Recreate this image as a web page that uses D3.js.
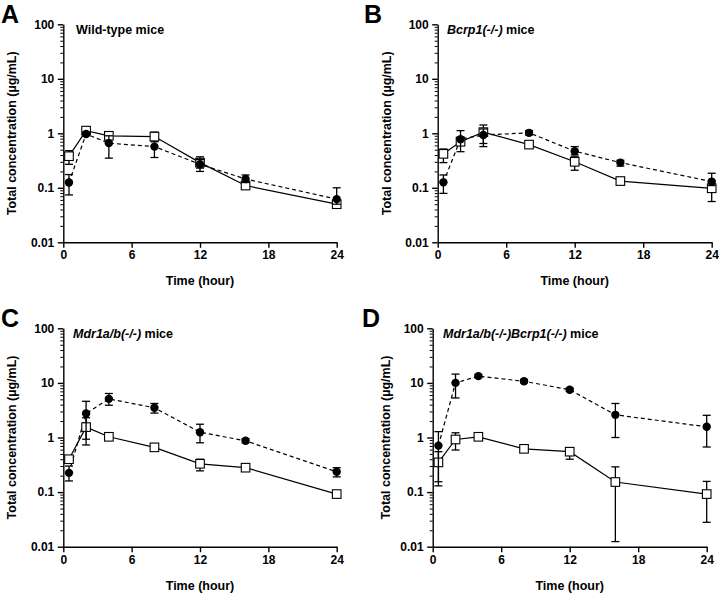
<!DOCTYPE html>
<html><head><meta charset="utf-8">
<script src="https://cdn.jsdelivr.net/npm/d3@7"></script>
<style>
html,body{margin:0;padding:0;background:#fff;}
svg{display:block;font-family:"Liberation Sans",Arial,sans-serif;}
</style></head>
<body>
<svg id="chart" width="719" height="594"></svg>
<script>
// ---------- data ----------
const times = [0.5, 2, 4, 8, 12, 16, 24];
const xTicks = [0, 6, 12, 18, 24];
const xTickLabels = ["0", "6", "12", "18", "24"];
const yTicks = [0.01, 0.1, 1, 10, 100];
const yTickLabels = ["0.01", "0.1", "1", "10", "100"];
const panelLetters = ["A", "B", "C", "D"];
const titleItalic = ["", "Bcrp1(-/-)", "Mdr1a/b(-/-)", "Mdr1a/b(-/-)Bcrp1(-/-)"];
const titlePlain = ["Wild-type mice", " mice", " mice", " mice"];
const xAxisTitle = "Time (hour)";
const yAxisTitle = "Total concentration (\u00b5g/mL)";

// open squares (solid line), filled circles (dashed line)
const sqMeanA = [0.38, 1.12, 0.90, 0.87, 0.29, 0.11, 0.05];
const sqLowA  = [0.27, 1.02, 0.80, 0.75, 0.23, 0.10, 0.045];
const sqHighA = [0.48, 1.25, 1.00, 1.05, 0.37, 0.12, 0.056];
const ciMeanA = [0.125, 0.97, 0.66, 0.57, 0.27, 0.145, 0.062];
const ciLowA  = [0.074, 0.90, 0.35, 0.36, 0.20, 0.125, 0.05];
const ciHighA = [0.175, 1.05, 0.90, 0.70, 0.33, 0.172, 0.10];

const sqMeanB = [0.42, 0.70, 1.05, 0.62, 0.30, 0.133, 0.098];
const sqLowB  = [0.29, 0.60, 0.65, 0.53, 0.21, 0.125, 0.056];
const sqHighB = [0.515, 0.85, 1.42, 0.70, 0.37, 0.142, 0.12];
const ciMeanB = [0.126, 0.78, 0.93, 1.02, 0.47, 0.29, 0.13];
const ciLowB  = [0.079, 0.46, 0.57, 0.93, 0.40, 0.25, 0.11];
const ciHighB = [0.172, 1.12, 1.20, 1.12, 0.57, 0.32, 0.185];

const sqMeanC = [0.40, 1.55, 1.03, 0.66, 0.33, 0.28, 0.092];
const sqLowC  = [0.34, 0.73, 0.95, 0.58, 0.245, 0.26, 0.085];
const sqHighC = [0.46, 2.30, 1.10, 0.76, 0.40, 0.30, 0.10];
const ciMeanC = [0.225, 2.75, 5.1, 3.5, 1.25, 0.87, 0.235];
const ciLowC  = [0.16, 0.93, 3.9, 2.8, 0.80, 0.80, 0.19];
const ciHighC = [0.30, 4.6, 6.4, 4.2, 1.75, 0.95, 0.28];

const sqMeanD = [0.35, 0.92, 1.03, 0.62, 0.55, 0.153, 0.092];
const sqLowD  = [0.13, 0.59, 0.95, 0.57, 0.40, 0.0124, 0.028];
const sqHighD = [0.55, 1.22, 1.10, 0.68, 0.65, 0.29, 0.157];
const ciMeanD = [0.71, 10.0, 13.3, 10.7, 7.5, 2.6, 1.57];
const ciLowD  = [0.155, 5.3, 12.5, 10.0, 7.0, 1.0, 0.67];
const ciHighD = [1.28, 14.5, 14.2, 11.5, 8.0, 4.2, 2.55];

// ---------- layout ----------
const panels = [
  {x0: 63.3, x1: 336.7, yTop: 24.3, yBot: 242.3, sq: [sqMeanA, sqLowA, sqHighA], ci: [ciMeanA, ciLowA, ciHighA], ylx: 11.5, ttx: 76, letterX: 1, letterY: 23},
  {x0: 437.7, x1: 711.7, yTop: 24.3, yBot: 242.3, sq: [sqMeanB, sqLowB, sqHighB], ci: [ciMeanB, ciLowB, ciHighB], ylx: 386, ttx: 447, letterX: 364, letterY: 23},
  {x0: 63.3, x1: 336.7, yTop: 328.3, yBot: 546.7, sq: [sqMeanC, sqLowC, sqHighC], ci: [ciMeanC, ciLowC, ciHighC], ylx: 11.7, ttx: 73, letterX: 1, letterY: 327},
  {x0: 432.7, x1: 706.7, yTop: 328.3, yBot: 546.7, sq: [sqMeanD, sqLowD, sqHighD], ci: [ciMeanD, ciLowD, ciHighD], ylx: 385, ttx: 443, letterX: 362, letterY: 327}
];

const svg = d3.select("#chart");
const minorTicks = [];
for (let e = -2; e < 2; e++) for (let m = 2; m <= 9; m++) minorTicks.push(m * Math.pow(10, e));

panels.forEach((p, pi) => {
  const x = d3.scaleLinear().domain([0, 24]).range([p.x0, p.x1]);
  const y = d3.scaleLog().domain([0.01, 100]).range([p.yBot, p.yTop]);
  const g = svg.append("g");

  // minor y ticks
  g.append("g").attr("transform", `translate(${p.x0},0)`)
    .call(d3.axisLeft(y).tickValues(minorTicks).tickSize(3).tickSizeOuter(0).tickFormat(""))
    .call(a => a.select(".domain").remove())
    .call(a => a.selectAll("line").attr("stroke", "#000").attr("stroke-width", 1));

  // major y axis
  g.append("g").attr("transform", `translate(${p.x0},0)`)
    .call(d3.axisLeft(y).tickValues(yTicks).tickSize(5.5).tickSizeOuter(0).tickPadding(3.5)
      .tickFormat((d, i) => yTickLabels[i]))
    .call(a => a.select(".domain").attr("stroke", "#000").attr("stroke-width", 1.4))
    .call(a => a.selectAll("line").attr("stroke", "#000").attr("stroke-width", 1.4))
    .call(a => a.selectAll("text").attr("fill", "#000").attr("font-size", 12).attr("font-weight", "bold")
      .attr("font-family", "Liberation Sans, Arial, sans-serif"));

  // x axis
  g.append("g").attr("transform", `translate(0,${p.yBot})`)
    .call(d3.axisBottom(x).tickValues(xTicks).tickSize(5.5).tickSizeOuter(0).tickPadding(3)
      .tickFormat((d, i) => xTickLabels[i]))
    .call(a => a.select(".domain").attr("stroke", "#000").attr("stroke-width", 1.4))
    .call(a => a.selectAll("line").attr("stroke", "#000").attr("stroke-width", 1.4))
    .call(a => a.selectAll("text").attr("fill", "#000").attr("font-size", 12).attr("font-weight", "bold")
      .attr("font-family", "Liberation Sans, Arial, sans-serif"));

  // axis titles
  g.append("text").attr("x", (p.x0 + p.x1) / 2).attr("y", p.yBot + 43)
    .attr("text-anchor", "middle").attr("font-size", 12.5).attr("font-weight", "bold").text(xAxisTitle);
  g.append("text").attr("transform", `translate(${p.ylx + 4.5},${(p.yTop + p.yBot) / 2}) rotate(-90)`)
    .attr("text-anchor", "middle").attr("font-size", 12.5).attr("font-weight", "bold").text(yAxisTitle);

  // panel letter
  g.append("text").attr("x", p.letterX).attr("y", p.letterY)
    .attr("font-size", 25).attr("font-weight", "bold").text(panelLetters[pi]);

  // panel title
  const tt = g.append("text").attr("x", p.ttx).attr("y", p.yTop + 9.5)
    .attr("font-size", 12.5).attr("font-weight", "bold");
  if (titleItalic[pi]) tt.append("tspan").attr("font-style", "italic").text(titleItalic[pi]);
  tt.append("tspan").text(titlePlain[pi]);

  const series = [
    {vals: p.sq, dash: null, shape: "square"},
    {vals: p.ci, dash: "4,3", shape: "circle"}
  ];
  const line = d3.line().x((d, i) => x(times[i])).y(d => y(d));

  // lines
  series.forEach(s => {
    g.append("path").datum(s.vals[0]).attr("d", line).attr("fill", "none")
      .attr("stroke", "#000").attr("stroke-width", 1.2)
      .attr("stroke-dasharray", s.dash);
  });

  // error bars + markers
  series.forEach(s => {
    const [mean, lo, hi] = s.vals;
    const eg = g.append("g").attr("stroke", "#000").attr("stroke-width", 1.3);
    times.forEach((t, i) => {
      const cx = x(t);
      eg.append("line").attr("x1", cx).attr("x2", cx).attr("y1", y(lo[i])).attr("y2", y(hi[i]));
      eg.append("line").attr("x1", cx - 4).attr("x2", cx + 4).attr("y1", y(lo[i])).attr("y2", y(lo[i]));
      eg.append("line").attr("x1", cx - 4).attr("x2", cx + 4).attr("y1", y(hi[i])).attr("y2", y(hi[i]));
    });
    const mg = g.append("g");
    if (s.shape === "square") {
      mg.selectAll("rect").data(mean).join("rect")
        .attr("x", (d, i) => x(times[i]) - 4.3).attr("y", d => y(d) - 4.3)
        .attr("width", 8.6).attr("height", 8.6)
        .attr("fill", "#fff").attr("stroke", "#000").attr("stroke-width", 1.1);
    } else {
      mg.selectAll("circle").data(mean).join("circle")
        .attr("cx", (d, i) => x(times[i])).attr("cy", d => y(d)).attr("r", 4.2)
        .attr("fill", "#000");
    }
  });
});
</script>
</body></html>
